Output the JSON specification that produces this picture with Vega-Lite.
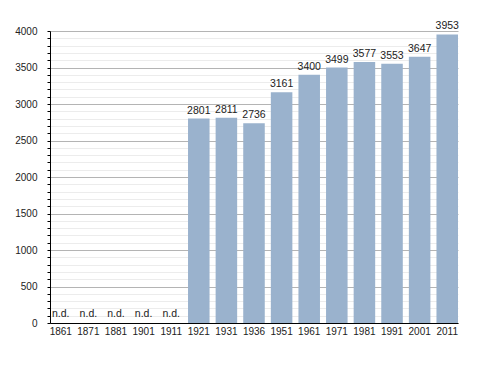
{
  "$schema": "https://vega.github.io/schema/vega-lite/v6.json",
  "autosize": {"type": "none"},
  "padding": {"left": 50, "top": 31, "right": 30, "bottom": 49},
  "width": 408,
  "height": 292,
  "background": "white",
  "config": {
    "view": {"stroke": null},
    "font": "Liberation Sans",
    "axis": {"labelFont": "Liberation Sans", "labelFontSize": 10, "labelColor": "#222222", "domainColor": "#000000", "tickColor": "#000000"}
  },
  "data": {
    "values": [
      {"year": "1861", "pop": null, "label": "n.d."},
      {"year": "1871", "pop": null, "label": "n.d."},
      {"year": "1881", "pop": null, "label": "n.d."},
      {"year": "1901", "pop": null, "label": "n.d."},
      {"year": "1911", "pop": null, "label": "n.d."},
      {"year": "1921", "pop": 2801, "label": "2801"},
      {"year": "1931", "pop": 2811, "label": "2811"},
      {"year": "1936", "pop": 2736, "label": "2736"},
      {"year": "1951", "pop": 3161, "label": "3161"},
      {"year": "1961", "pop": 3400, "label": "3400"},
      {"year": "1971", "pop": 3499, "label": "3499"},
      {"year": "1981", "pop": 3577, "label": "3577"},
      {"year": "1991", "pop": 3553, "label": "3553"},
      {"year": "2001", "pop": 3647, "label": "3647"},
      {"year": "2011", "pop": 3953, "label": "3953"}
    ]
  },
  "encoding": {
    "x": {
      "field": "year", "type": "ordinal",
      "sort": ["1861","1871","1881","1901","1911","1921","1931","1936","1951","1961","1971","1981","1991","2001","2011"],
      "scale": {"paddingInner": 0.22, "paddingOuter": 0},
      "axis": {"title": null, "labelAngle": 0, "ticks": false, "labelPadding": 3, "domainColor": "#000000", "grid": false}
    }
  },
  "layer": [
    {
      "mark": {"type": "bar", "color": "#9ab2cd"},
      "encoding": {
        "y": {
          "field": "pop", "type": "quantitative",
          "scale": {"domain": [0, 4000], "nice": false},
          "axis": {
            "title": null, "orient": "left",
            "values": [100,200,300,400,600,700,800,900,1100,1200,1300,1400,1600,1700,1800,1900,2100,2200,2300,2400,2600,2700,2800,2900,3100,3200,3300,3400,3600,3700,3800,3900],
            "labels": false, "grid": true, "gridColor": "#ececec", "gridWidth": 1,
            "tickSize": 3, "domain": false
          }
        }
      }
    },
    {
      "transform": [{"filter": "datum.pop != null"}],
      "mark": {"type": "text", "baseline": "bottom", "dy": -3, "fontSize": 10.5, "color": "#222222", "font": "Liberation Sans"},
      "encoding": {
        "y": {
          "field": "pop", "type": "quantitative",
          "axis": {
            "title": null, "orient": "left", "format": "d",
            "values": [0,500,1000,1500,2000,2500,3000,3500,4000],
            "grid": true, "gridColor": "#b4b4b4", "gridWidth": 1,
            "tickSize": 3, "labelPadding": 10, "domain": true, "domainColor": "#000000"
          }
        },
        "text": {"field": "label"}
      }
    },
    {
      "transform": [{"filter": "datum.pop == null"}],
      "mark": {"type": "text", "baseline": "bottom", "dy": -4, "fontSize": 10.5, "color": "#222222", "font": "Liberation Sans"},
      "encoding": {
        "y": {"datum": 0, "type": "quantitative", "axis": null},
        "text": {"field": "label"}
      }
    }
  ],
  "resolve": {"axis": {"y": "independent"}}
}
